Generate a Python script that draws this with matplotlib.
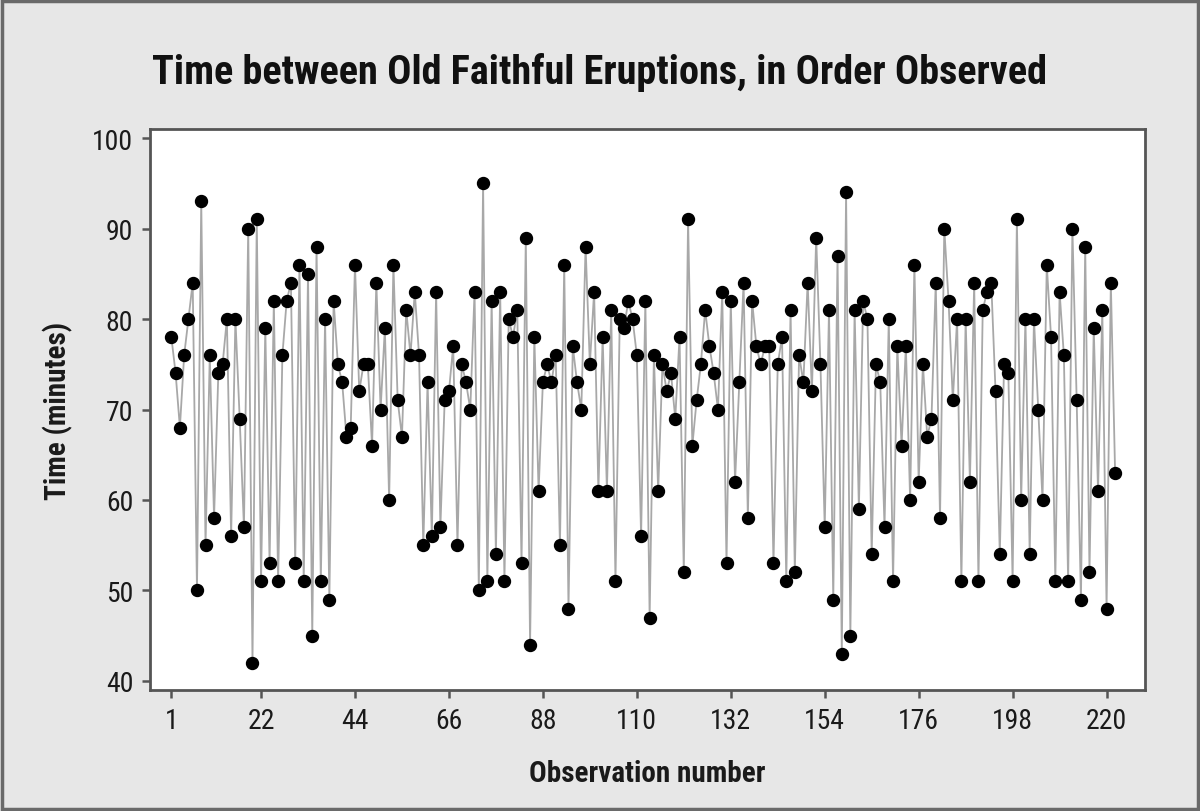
import matplotlib
matplotlib.use("Agg")
import matplotlib.pyplot as plt
from matplotlib.patches import Rectangle
import numpy as np

# Time between eruptions (minutes), in order observed
minutes = [
    78, 74, 68, 76, 80, 84, 50, 93, 55, 76, 58, 74, 75, 80, 56, 80, 69, 57, 90, 42,
    91, 51, 79, 53, 82, 51, 76, 82, 84, 53, 86, 51, 85, 45, 88, 51, 80, 49, 82, 75,
    73, 67, 68, 86, 72, 75, 75, 66, 84, 70, 79, 60, 86, 71, 67, 81, 76, 83, 76, 55,
    73, 56, 83, 57, 71, 72, 77, 55, 75, 73, 70, 83, 50, 95, 51, 82, 54, 83, 51, 80,
    78, 81, 53, 89, 44, 78, 61, 73, 75, 73, 76, 55, 86, 48, 77, 73, 70, 88, 75, 83,
    61, 78, 61, 81, 51, 80, 79, 82, 80, 76, 56, 82, 47, 76, 61, 75, 72, 74, 69, 78,
    52, 91, 66, 71, 75, 81, 77, 74, 70, 83, 53, 82, 62, 73, 84, 58, 82, 77, 75, 77,
    77, 53, 75, 78, 51, 81, 52, 76, 73, 84, 72, 89, 75, 57, 81, 49, 87, 43, 94, 45,
    81, 59, 82, 80, 54, 75, 73, 57, 80, 51, 77, 66, 77, 60, 86, 62, 75, 67, 69, 84,
    58, 90, 82, 71, 80, 51, 80, 62, 84, 51, 81, 83, 84, 72, 54, 75, 74, 51, 91, 60,
    80, 54, 80, 70, 60, 86, 78, 51, 83, 76, 51, 90, 71, 49, 88, 52, 79, 61, 81, 48,
    84, 63,
]
obs = list(range(1, len(minutes) + 1))
x_ticks = [1, 22, 44, 66, 88, 110, 132, 154, 176, 198, 220]
y_ticks = [40, 50, 60, 70, 80, 90, 100]

title = "Time between Old Faithful Eruptions, in Order Observed"
xlabel = "Observation number"
ylabel = "Time (minutes)"

plt.rcParams['font.family'] = ['Liberation Sans Narrow', 'DejaVu Sans Condensed',
                               'Roboto Condensed', 'Liberation Sans', 'DejaVu Sans']

W, H = 1200, 812
fig = plt.figure(figsize=(W / 100, H / 100), dpi=100)
fig.patch.set_facecolor('#e7e7e7')

# outer frame
fig.patches.append(Rectangle((2 / W, 2 / H), 1 - 4 / W, 1 - 4 / H, transform=fig.transFigure,
                             fill=False, edgecolor='#6a6a6a', linewidth=2.5, zorder=10))

left, right, top, bottom = 150, 1145, 130, 691
ax = fig.add_axes([left / W, 1 - bottom / H, (right - left) / W, (bottom - top) / H])
ax.set_facecolor('white')

ax.plot(obs, minutes, color='#a8a8a8', linewidth=1.3, zorder=2)
ax.plot(obs, minutes, linestyle='none', marker='o', markersize=8.6,
        markerfacecolor='black', markeredgecolor='black', zorder=3)

ax.set_xlim(-4.0, 229.0)
ax.set_ylim(39, 101)
ax.set_xticks(x_ticks)
ax.set_yticks(y_ticks)

for sp in ax.spines.values():
    sp.set_color('#555555')
    sp.set_linewidth(2)

ax.tick_params(axis='both', direction='out', length=6, width=1.8, color='#555555',
               labelsize=20, labelcolor='#1a1a1a', pad=6)

ax.set_xlabel(xlabel, fontsize=21, fontweight='bold', color='#1a1a1a', labelpad=18)
ax.set_ylabel(ylabel, fontsize=21, fontweight='bold', color='#1a1a1a', labelpad=14)

fig.text(0.5, 1 - 73 / H, title, ha='center', va='center', fontsize=29,
         fontweight='bold', color='#111111')

fig.savefig('out.png', dpi=100, facecolor=fig.get_facecolor())
